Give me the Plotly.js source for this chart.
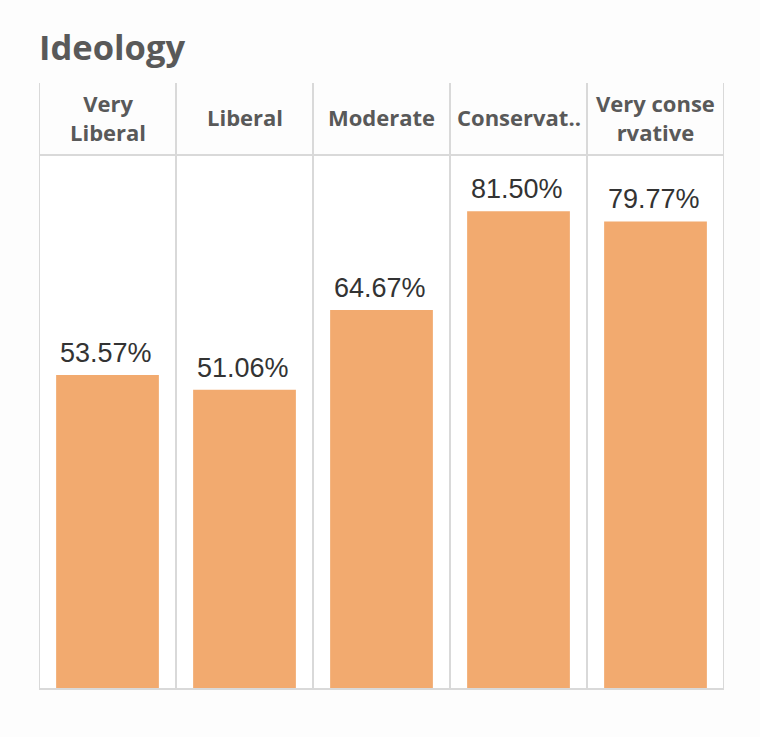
<!DOCTYPE html>
<html>
<head>
<meta charset="utf-8">
<script src="https://cdn.plot.ly/plotly-3.0.1.min.js"></script>
<style>html,body{margin:0;padding:0;background:#fdfdfd;}#chart{width:760px;height:737px;}</style>
</head>
<body>
<div id="chart"></div>
<script>
const categories = ["Very Liberal", "Liberal", "Moderate", "Conservative", "Very conservative"];
const headerLabels = ["Very<br>Liberal", "Liberal", "Moderate", "Conservat..", "Very conse<br>rvative"];
const values = [53.57, 51.06, 64.67, 81.50, 79.77];
const valueLabels = ["53.57%", "51.06%", "64.67%", "81.50%", "79.77%"];

const H = 534; // plot height in px
const gridColor = "#d9d9d9";
const shapes = [];
for (let i = 0; i <= categories.length; i++) {
  shapes.push({type: "line", xref: "x", yref: "paper", x0: i - 0.5, x1: i - 0.5, y0: 0, y1: (689 - 83) / H,
    line: {color: gridColor, width: 2}});
}
shapes.push({type: "line", xref: "paper", yref: "paper", x0: 0, x1: 1, y0: 1, y1: 1, line: {color: gridColor, width: 2}});
shapes.push({type: "line", xref: "paper", yref: "paper", x0: 0, x1: 1, y0: 0, y1: 0, line: {color: gridColor, width: 2}});

const annotations = headerLabels.map((t, i) => ({
  x: i, xref: "x", y: (689 - 117) / H, yref: "paper", text: "<b>" + t + "</b>", showarrow: false,
  xanchor: "center", yanchor: "middle",
  font: {family: "Open Sans", size: 22, color: "#595959"}
}));
values.forEach((v, i) => annotations.push({
  x: i, xref: "x", y: v, yref: "y", text: valueLabels[i], showarrow: false,
  xanchor: "center", yanchor: "bottom", yshift: 5, xshift: -2,
  font: {family: "Arial, Liberation Sans", size: 27, color: "#333333"}
}));
annotations.push({
  x: 0, xref: "paper", y: (689 - 47) / H, yref: "paper", text: "<b>Ideology</b>", showarrow: false,
  xanchor: "left", yanchor: "middle", xshift: -2,
  font: {family: "Open Sans", size: 34.5, color: "#595959"}
});

Plotly.newPlot("chart", [{
  type: "bar",
  x: categories.map((c, i) => i),
  y: values,
  marker: {color: "#f2aa6f"},
  hoverinfo: "none"
}], {
  width: 760, height: 737,
  margin: {l: 39, r: 36, t: 155, b: 48},
  paper_bgcolor: "#fdfdfd", plot_bgcolor: "#ffffff",
  bargap: 0.25,
  showlegend: false,
  xaxis: {range: [-0.5, 4.5], showticklabels: false, showgrid: false, zeroline: false, showline: false, ticks: ""},
  yaxis: {range: [0, 91.1], showticklabels: false, showgrid: false, zeroline: false, showline: false, ticks: ""},
  shapes: shapes,
  annotations: annotations
}, {displayModeBar: false, staticPlot: true});
</script>
</body>
</html>
